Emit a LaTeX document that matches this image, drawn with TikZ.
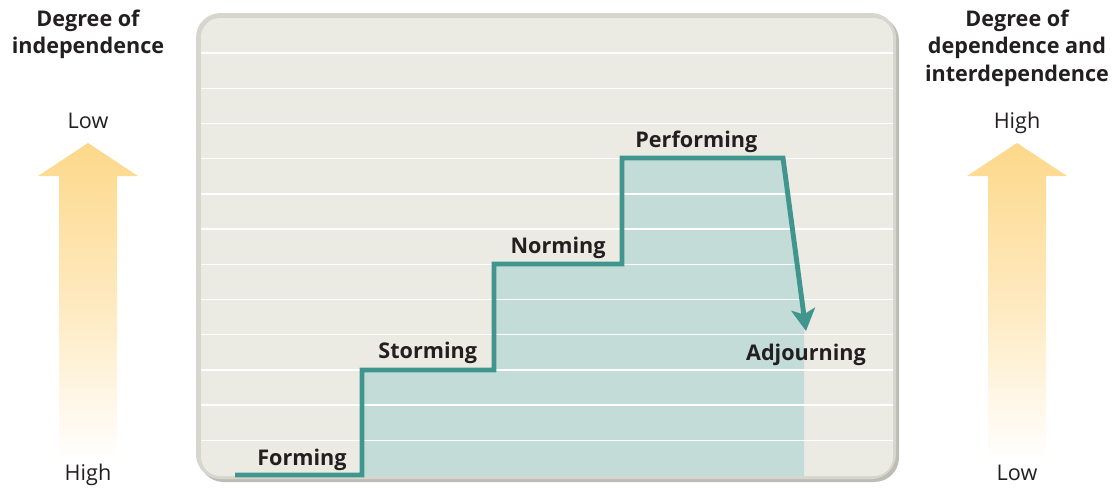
\documentclass[tikz,border=0pt]{standalone}
\usepackage{fontspec}
\setmainfont{Open Sans}
\usetikzlibrary{arrows.meta,positioning}

\definecolor{panelbg}{HTML}{ECEBE3}
\definecolor{panelrim}{HTML}{D6D6CE}
\definecolor{panelshade}{HTML}{BDBDB7}
\definecolor{stepline}{HTML}{40968E}
\definecolor{stepfill}{HTML}{C3DCD8}
\definecolor{arrowtop}{HTML}{FDD88A}
\definecolor{ink}{HTML}{231F20}

\newcommand{\labelsize}{\fontsize{12.3}{15.4}\selectfont}

\begin{document}
\begin{tikzpicture}
  [x=0.02cm, y=-0.02cm,
   stage/.style={font=\labelsize\bfseries, text=ink, inner sep=0pt},
   heading/.style={font=\labelsize\bfseries, text=ink, align=center, inner sep=0pt, anchor=north},
   level/.style={font=\labelsize, text=ink, inner sep=0pt, anchor=base},
   steps/.style={line width=2.8pt, draw=stepline, line join=miter},
   ruler/.style={draw=white, line width=0.8pt}]

  \useasboundingbox (0,0) rectangle (1115,487);

  % Panel
  \fill[panelshade, rounded corners=14] (199,16) rectangle (899,482);
  \fill[panelrim, rounded corners=14] (196,13) rectangle (896,479);
  \fill[panelbg, rounded corners=11] (201,18) rectangle (893,476);

  % Corners of the staircase
  \coordinate (s0) at (235,475);
  \coordinate (s1) at (362,475);
  \coordinate (s2) at (362,370);
  \coordinate (s3) at (494,370);
  \coordinate (s4) at (494,264);
  \coordinate (s5) at (622,264);
  \coordinate (s6) at (622,158);
  \coordinate (s7) at (783,158);
  \coordinate (s8) at (806,331);

  % Area under the steps
  \fill[stepfill] (362,476) -- (s2) -- (s3) -- (s4) -- (s5) -- (s6) -- (s7)
    -- (804,316) -- (804,476) -- cycle;

  % Ruled lines
  \foreach \k in {0,...,11}
    \draw[ruler] (201,{53+35.2*\k}) -- (893,{53+35.2*\k});

  % Staircase
  \draw[steps, -{Stealth[length=12.5pt, width=13.6pt, inset=3pt]}]
    (s0) -- (s1) -- (s2) -- (s3) -- (s4) -- (s5) -- (s6) -- (s7) -- (s8);

  % Stage labels
  \node[stage, above left=0.08cm and 0.3cm of s1] (forming) {Forming};
  \node[stage, above left=0.12cm and 0.33cm of s3] (storming) {Storming};
  \node[stage, above left=0.1cm and 0.32cm of s5] (norming) {Norming};
  \node[stage, above right=0.1cm and 0.26cm of s6] (performing) {Performing};
  \node[stage, below=0.26cm of s8] (adjourning) {Adjourning};

  % Side arrows
  \foreach \cx in {88,1017}
    \shade[top color=arrowtop, bottom color=white, middle color=arrowtop!55]
      (\cx-29,460) -- (\cx-29,176) -- (\cx-50,176) -- (\cx,143)
      -- (\cx+50,176) -- (\cx+29,176) -- (\cx+29,460) -- cycle;

  % Side labels
  \node[heading] (indep) at (88,10) {Degree of\\independence};
  \node[heading] (dep) at (1017,10) {Degree of\\dependence and\\interdependence};
  \node[level] (lowL) at (88,128) {Low};
  \node[level] (highL) at (88,480) {High};
  \node[level] (highR) at (1017,128) {High};
  \node[level] (lowR) at (1017,480) {Low};
\end{tikzpicture}
\end{document}
